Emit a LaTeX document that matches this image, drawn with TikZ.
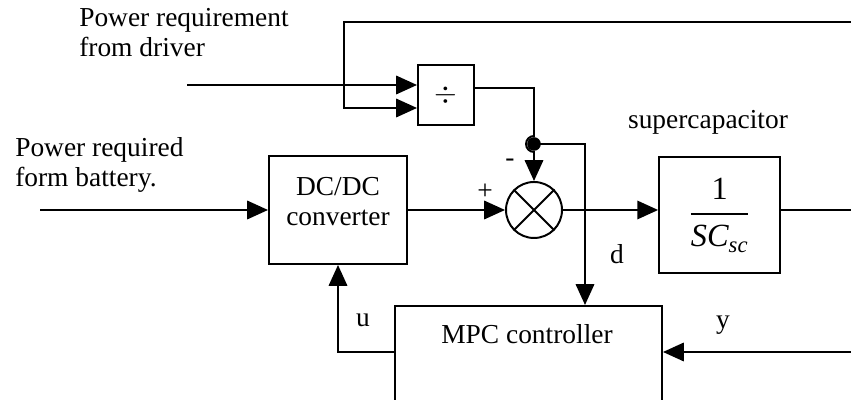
\documentclass[tikz,border=0pt]{standalone}
\usepackage{amsmath}
\usepackage{fontspec}
\setmainfont{Liberation Serif}
\usetikzlibrary{arrows.meta,calc}
\tikzset{
    blk/.style={rectangle,draw,line width=1.4pt,minimum width=#1},
    txt/.style={font=\fontsize{19.5pt}{21.3pt}\selectfont,align=#1,inner sep=0pt},
    txt/.default=center,
    wire/.style={line width=1.4pt},
    arr/.style={-{Triangle[length=0.52cm,width=0.46cm]},line width=1.4pt},
}
\begin{document}
\begin{tikzpicture}
\clip (0,0) rectangle (21.275,10);
\node[blk=3.45cm,minimum height=2.7cm] (conv) at (8.45,4.75) {};
\node[txt] (convtxt) at (8.45,4.95) {DC/DC\\converter};
\node[blk=1.4cm,minimum height=1.5cm,txt] (div) at (11.15,7.625) {$\div$};
\node[circle,draw,line width=1.4pt,minimum size=1.4cm] (mult) at (13.35,4.75) {};
\draw[wire] (mult.45) -- (mult.225) (mult.135) -- (mult.315);
\node[blk=3.025cm,minimum height=2.9cm,txt,font=\fontsize{23pt}{26pt}\selectfont] (sc) at (17.99,4.625) {$\displaystyle\frac{\textrm{1}}{\textit{SC}_{\textit{sc}}}$};
\node[blk=6.675cm,minimum height=2.45cm] (mpc) at (13.2125,1.125) {};
\node[txt] (mpctxt) at (13.175,1.65) {MPC controller};
\node[txt=left,anchor=west] (ldrv) at (1.975,9.175) {Power requirement\\from driver};
\node[txt=left,anchor=west] (lbatt) at (0.375,5.875) {Power required\\form battery.};
\node[txt] (lsc) at (17.7,6.95) {supercapacitor};
\node[txt] (lplus) at (12.125,5.2) {+};
\node[txt] (lminus) at (12.75,5.925) {-};
\node[txt] (lu) at (9.075,2.0) {u};
\node[txt] (ly) at (18.075,1.875) {y};
\node[txt] (ld) at (15.425,3.65) {d};
\coordinate (topR) at (21.275,9.45);
\coordinate (fbk) at (8.6,9.45);
\coordinate (drv) at (4.675,7.875);
\coordinate (batt) at (1.0,4.75);
\coordinate (jn) at (13.35,6.4);
\coordinate (dk) at (14.625,6.4);
\coordinate (outR) at (21.275,4.75);
\coordinate (yR) at (21.275,1.2);
\draw[arr] (topR) -- (fbk) |- ($(div.west)+(0,-0.325)$);
\draw[arr] (drv) -- ($(div.west)+(0,0.25)$);
\draw[arr] ($(div.east)+(0,0.175)$) -| ($(jn)+(0,0.2)$) arc[start angle=90,end angle=270,radius=0.2cm] -- (mult.north);
\fill (jn) circle (0.17);
\draw[arr] (jn) -- (dk) -- (dk |- mpc.north);
\draw[arr] (batt) -- (conv.west);
\draw[arr] (conv.east) -- (mult.west);
\draw[arr] (mult.east) -- (mult.east -| sc.west);
\draw[wire] (sc.east |- mult.east) -- (outR);
\draw[arr] (yR) -- (yR -| mpc.east);
\draw[arr] (mpc.west |- yR) -| (conv.south);
\end{tikzpicture}
\end{document}
